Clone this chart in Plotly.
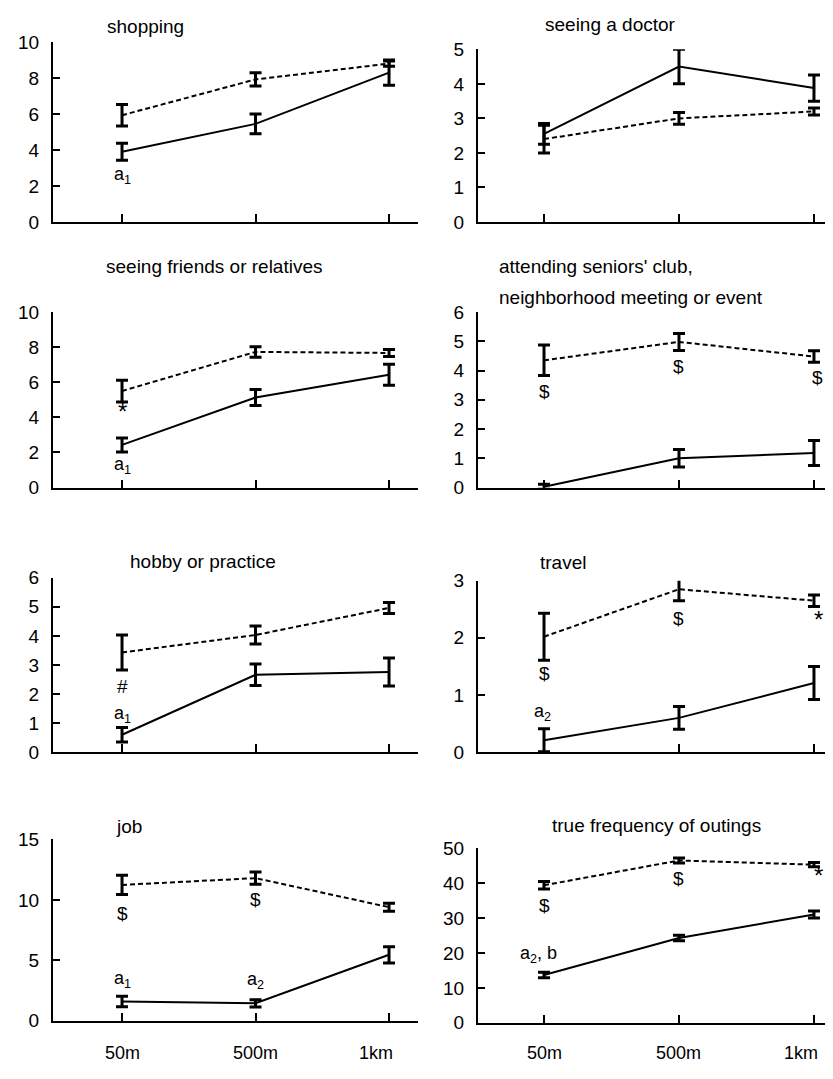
import plotly.graph_objects as go

# The page body has an 8px margin; the figure is sized so the page does not
# overflow the 833x1079 window, and pixel positions are given in page pixels.
PAGE_W, PAGE_H = 833, 1079
OFF = 8
W, H = PAGE_W - OFF, PAGE_H - 2 * OFF

categories = ["50m", "500m", "1km"]
category_label_shift = [0, 0, -13]
x_pos = [0, 1, 2]

panel_titles = [
    "shopping",
    "seeing a doctor",
    "seeing friends or relatives",
    "attending seniors' club,",
    "hobby or practice",
    "travel",
    "job",
    "true frequency of outings",
]
extra_title_line = "neighborhood meeting or event"

shopping_dash = [5.93, 7.92, 8.8]
shopping_dash_err = [0.6, 0.37, 0.15]
shopping_solid = [3.9, 5.45, 8.3]
shopping_solid_err = [0.47, 0.55, 0.7]

doctor_dash = [2.4, 3.0, 3.2]
doctor_dash_err = [0.4, 0.17, 0.1]
doctor_solid = [2.55, 4.5, 3.88]
doctor_solid_err = [0.3, 0.5, 0.38]

friends_dash = [5.5, 7.73, 7.67]
friends_dash_err = [0.62, 0.3, 0.2]
friends_solid = [2.43, 5.13, 6.43]
friends_solid_err = [0.4, 0.45, 0.6]

club_dash = [4.35, 4.98, 4.48]
club_dash_err = [0.52, 0.29, 0.2]
club_solid = [0.03, 1.0, 1.18]
club_solid_err = [0.08, 0.3, 0.43]

hobby_dash = [3.43, 4.03, 4.96]
hobby_dash_err = [0.6, 0.31, 0.19]
hobby_solid = [0.6, 2.66, 2.76]
hobby_solid_err = [0.25, 0.37, 0.48]

travel_dash = [2.02, 2.85, 2.65]
travel_dash_err = [0.41, 0.2, 0.1]
travel_solid = [0.21, 0.6, 1.21]
travel_solid_err = [0.2, 0.2, 0.29]

job_dash = [11.24, 11.8, 9.4]
job_dash_err = [0.8, 0.5, 0.33]
job_solid = [1.59, 1.45, 5.46]
job_solid_err = [0.43, 0.3, 0.67]

outings_dash = [39.4, 46.5, 45.3]
outings_dash_err = [1.1, 0.7, 0.6]
outings_solid = [13.7, 24.3, 31.0]
outings_solid_err = [0.8, 0.8, 1.0]

y_max = [10, 5, 10, 6, 6, 3, 15, 50]
y_step = [2, 1, 2, 1, 1, 1, 5, 10]

# (panel index, category index, y value, text, x shift px, size)
marks = [
    (0, 0, 2.6, "a<sub>1</sub>", 0, 18),
    (2, 0, 4.35, "*", 0, 24),
    (2, 0, 1.25, "a<sub>1</sub>", 0, 18),
    (3, 0, 3.3, "$", 0, 19),
    (3, 1, 4.15, "$", 0, 19),
    (3, 2, 3.75, "$", 4, 19),
    (4, 0, 2.25, "#", 0, 19),
    (4, 0, 1.3, "a<sub>1</sub>", 0, 18),
    (5, 0, 1.38, "$", 0, 19),
    (5, 1, 2.33, "$", 0, 19),
    (5, 2, 2.32, "*", 5, 24),
    (5, 0, 0.7, "a<sub>2</sub>", -2, 18),
    (6, 0, 8.9, "$", 0, 19),
    (6, 1, 10.0, "$", 0, 19),
    (6, 0, 3.4, "a<sub>1</sub>", 0, 18),
    (6, 1, 3.3, "a<sub>2</sub>", 0, 18),
    (7, 0, 33.6, "$", 0, 19),
    (7, 1, 41.3, "$", 0, 19),
    (7, 2, 42.3, "*", 5, 24),
    (7, 0, 19.5, "a<sub>2</sub>, b", -6, 18),
]

series = [
    (shopping_dash, shopping_dash_err, shopping_solid, shopping_solid_err),
    (doctor_dash, doctor_dash_err, doctor_solid, doctor_solid_err),
    (friends_dash, friends_dash_err, friends_solid, friends_solid_err),
    (club_dash, club_dash_err, club_solid, club_solid_err),
    (hobby_dash, hobby_dash_err, hobby_solid, hobby_solid_err),
    (travel_dash, travel_dash_err, travel_solid, travel_solid_err),
    (job_dash, job_dash_err, job_solid, job_solid_err),
    (outings_dash, outings_dash_err, outings_solid, outings_solid_err),
]

# layout geometry in page pixels
col_px = [(53, 418), (478, 833)]
col_range = [(-0.517, 2.217), (-0.489, 2.141)]
row_px = [(32.5, 216), (40, 216), (308, 487), (308, 487),
          (579, 757), (582, 757), (846, 1031), (855, 1033)]
title_pos = [
    (145, 17, "center"), (610, 15, "center"), (214, 261, "center"),
    (497, 262, "left"), (203, 562, "center"), (563, 563, "center"),
    (129, 833, "center"), (656, 832, "center"),
]
category_label_y = 1064


def px_x(v):
    return (v - OFF) / W


def px_y(v):
    return 1 - (v - OFF) / H


FONT = "Liberation Sans, Arial, sans-serif"
fig = go.Figure()
layout = dict(
    width=W, height=H, margin=dict(l=0, r=0, t=0, b=0),
    paper_bgcolor="white", plot_bgcolor="white", showlegend=False,
    font=dict(family=FONT, size=18, color="black"),
)
annotations = []

for i in range(8):
    col = i % 2
    n = i + 1
    xa = "x" if n == 1 else f"x{n}"
    ya = "y" if n == 1 else f"y{n}"
    dash, dash_err, solid, solid_err = series[i]
    fig.add_trace(go.Scatter(
        x=x_pos, y=dash, mode="lines", xaxis=xa, yaxis=ya,
        line=dict(color="black", width=2, dash="5px,3px"),
        error_y=dict(type="data", array=dash_err, visible=True,
                     color="black", thickness=3, width=6),
        cliponaxis=False,
    ))
    fig.add_trace(go.Scatter(
        x=x_pos, y=solid, mode="lines", xaxis=xa, yaxis=ya,
        line=dict(color="black", width=2),
        error_y=dict(type="data", array=solid_err, visible=True,
                     color="black", thickness=3, width=6),
        cliponaxis=False,
    ))
    x0, x1 = col_px[col]
    ytop, ybot = row_px[i]
    layout["xaxis" if n == 1 else f"xaxis{n}"] = dict(
        domain=[max(0, px_x(x0)), min(1, px_x(x1))], range=list(col_range[col]),
        anchor=ya, showline=True, linewidth=2, linecolor="black",
        showgrid=False, zeroline=False, ticks="inside", ticklen=8,
        tickwidth=1.5, tickcolor="black",
        tickvals=x_pos, ticktext=categories, showticklabels=False,
    )
    layout["yaxis" if n == 1 else f"yaxis{n}"] = dict(
        domain=[px_y(ybot), px_y(ytop)], range=[0, y_max[i]],
        anchor=xa, showline=True, linewidth=2, linecolor="black",
        showgrid=False, zeroline=False, ticks="inside", ticklen=7,
        tickwidth=1.5, tickcolor="black", dtick=y_step[i], tick0=0,
        ticklabelstandoff=8, tickfont=dict(size=19, color="black"),
    )
    tx, ty, al = title_pos[i]
    annotations.append(dict(
        text=panel_titles[i], x=px_x(tx), y=px_y(ty), xref="paper", yref="paper",
        xanchor=al, yanchor="middle", showarrow=False,
        font=dict(size=19, color="black"),
    ))
    if i >= 6:
        # category labels under the bottom row, placed on the axis scale
        for ci in range(3):
            annotations.append(dict(
                text=categories[ci], x=x_pos[ci], y=px_y(category_label_y),
                xref=xa, yref="paper", xshift=category_label_shift[ci],
                xanchor="center", yanchor="middle", showarrow=False,
                font=dict(size=18, color="black"),
            ))

annotations.append(dict(
    text=extra_title_line, x=px_x(497), y=px_y(293), xref="paper", yref="paper",
    xanchor="left", yanchor="middle", showarrow=False,
    font=dict(size=19, color="black"),
))

for (p, ci, yv, txt, xs, fs) in marks:
    n = p + 1
    annotations.append(dict(
        text=txt, x=x_pos[ci], y=yv, xshift=xs,
        xref="x" if n == 1 else f"x{n}", yref="y" if n == 1 else f"y{n}",
        showarrow=False, font=dict(size=fs, color="black"),
        xanchor="center", yanchor="middle",
    ))

layout["annotations"] = annotations
fig.update_layout(**layout)
fig.write_html("out.html")
